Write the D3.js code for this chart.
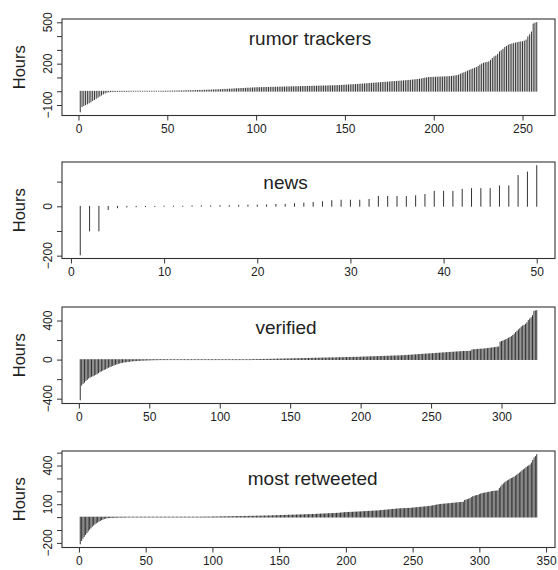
<!DOCTYPE html>
<html>
<head>
<meta charset="utf-8">
<script src="https://cdn.jsdelivr.net/npm/d3@7"></script>
<style>
  body { margin: 0; background: #fff; }
  svg text { font-family: "Liberation Sans", Arial, Helvetica, sans-serif; fill: #222; }
</style>
</head>
<body>
<div id="chart"></div>
<script>
// sorted hour differences, one value per account
let rumorTrackers = [
  -150,-112,-104,-98,-92,-85,-77,-68,-60,-52,-44,-36,-28,-20,-13,-8,-5,-3,-2,-2,
  -1,-1,-1,-1,-1,-1,-1,-1,0,0,0,0,0,0,0,0,0,0,0,0,
  0,0,0,0,0,0,1,1,1,1,1,2,2,2,2,3,3,3,3,4,
  4,4,5,5,5,6,6,7,7,7,8,8,9,9,10,10,11,11,12,12,
  13,14,14,15,16,16,17,18,19,19,20,21,21,22,23,23,24,25,25,26,
  26,27,27,27,28,28,28,29,29,29,30,30,30,31,31,31,32,32,32,33,
  33,33,34,34,34,35,35,35,36,36,36,37,37,37,38,38,38,39,39,39,
  40,40,40,41,41,42,42,43,44,45,45,46,47,48,48,49,50,51,52,53,
  54,55,56,57,58,59,60,61,62,63,64,65,66,67,68,69,70,71,72,73,
  74,75,76,77,78,79,80,82,83,85,86,88,90,93,96,98,100,101,101,102,
  102,103,103,104,104,105,105,106,107,108,110,112,114,118,124,130,135,140,146,152,
  157,162,167,172,180,190,198,203,207,210,214,225,238,250,256,268,285,295,305,318,
  325,335,340,343,346,350,353,356,358,360,364,372,395,410,430,488,495,498
];

let news = [
  -197,-100,-100,-13,-6,-3,-2,-1,-1,1,1,1,2,2,2,3,3,4,5,5,
  6,8,8,11,13,16,19,23,25,25,25,28,40,40,40,40,43,48,61,61,
  61,69,72,72,72,83,83,125,139,165
];

let verified = [
  -413,-262,-245,-232,-215,-203,-190,-180,-172,-168,-160,-152,-145,-135,-125,-118,-110,-103,-96,-88,
  -80,-74,-68,-62,-56,-50,-45,-40,-36,-32,-29,-26,-24,-22,-20,-18,-16,-14,-13,-12,
  -11,-10,-9,-8,-7,-7,-6,-5,-5,-4,-4,-3,-3,-2,-2,-2,-1,-1,-1,-1,
  -1,-1,0,0,0,0,0,0,0,0,0,0,0,0,0,0,0,0,0,0,
  0,0,0,0,0,0,0,0,0,0,0,0,0,0,0,0,0,0,0,0,
  0,0,0,0,0,0,0,0,0,0,0,0,0,0,0,0,0,0,0,0,
  0,0,1,1,1,1,2,2,2,2,3,3,3,3,4,4,4,5,5,5,
  6,6,6,7,7,7,8,8,8,9,9,9,10,10,10,11,11,11,12,12,
  12,13,13,13,14,14,14,15,15,15,16,16,16,17,17,17,18,18,18,19,
  19,19,20,20,20,21,21,21,22,22,22,23,23,23,24,24,24,25,25,26,
  26,27,27,28,28,29,29,30,30,31,31,32,32,33,33,34,34,35,35,36,
  36,37,37,38,38,39,39,40,40,41,42,43,44,45,46,47,48,49,50,51,
  52,53,54,55,56,57,58,59,60,61,62,63,64,65,66,67,68,69,70,71,
  72,73,74,75,76,77,78,79,80,81,82,83,84,84,85,85,86,86,100,102,
  103,104,105,106,107,108,109,110,112,114,116,118,120,122,124,126,128,130,180,186,
  192,198,205,212,220,228,236,248,262,278,292,305,318,335,345,352,362,378,400,415,
  430,450,495,500,502
];

let mostRetweeted = [
  -208,-182,-165,-150,-135,-122,-108,-95,-84,-72,-62,-54,-46,-39,-33,-27,-21,-16,-12,-8,
  -6,-5,-4,-3,-3,-2,-2,-2,-1,-1,-1,-1,-1,-1,-1,0,0,0,0,0,
  0,0,0,0,0,0,0,0,0,0,0,0,0,0,0,0,0,0,0,0,
  0,0,0,0,0,0,0,0,0,0,0,0,0,0,0,0,0,0,0,0,
  0,0,0,0,0,0,0,0,0,0,0,0,1,1,1,1,1,1,1,2,
  2,2,2,2,2,3,3,3,3,3,3,4,4,4,4,4,5,5,5,5,
  5,5,6,6,6,6,6,7,7,7,7,7,8,8,8,8,8,9,9,9,
  9,10,10,10,11,11,11,12,12,12,13,13,13,14,14,14,15,15,15,16,
  16,16,17,17,17,18,18,18,19,19,19,20,20,20,21,21,22,22,23,23,
  24,24,25,25,26,26,27,27,28,28,29,29,30,30,31,32,33,34,35,36,
  36,37,37,38,38,39,39,40,40,41,41,42,43,43,44,45,45,46,46,47,
  47,48,48,49,50,51,52,53,54,55,56,57,58,59,60,61,62,63,64,65,
  65,66,66,67,67,68,68,69,70,71,72,73,74,75,76,77,78,79,80,81,
  82,83,84,86,88,90,92,94,96,98,99,100,101,102,103,104,105,106,107,108,
  109,110,111,112,113,114,115,116,130,133,136,140,145,152,158,162,165,168,170,175,
  180,183,185,187,189,191,193,195,198,200,201,202,203,205,222,235,248,258,267,275,
  282,288,295,300,305,310,318,326,334,342,350,360,368,375,385,392,398,405,420,440,
  459,470,485
];

let titles = ["rumor trackers", "news", "verified", "most retweeted"];

let xTicks = [
  [0, 50, 100, 150, 200, 250],
  [0, 10, 20, 30, 40, 50],
  [0, 50, 100, 150, 200, 250, 300],
  [0, 50, 100, 150, 200, 250, 300, 350]
];
let yTicks = [
  [-100, 0, 100, 200, 300, 400, 500],
  [-200, -100, 0, 100],
  [-400, -200, 0, 200, 400],
  [-200, -100, 0, 100, 200, 300, 400, 500]
];
let yLabels = [
  [-100, 200, 500],
  [-200, 0],
  [-400, 0, 400],
  [-200, 100, 400]
];

let series = [rumorTrackers, news, verified, mostRetweeted];

let width = 558, height = 570;
let left = 62, right = 555;
let tops = [19, 162, 307, 451];
let panelH = 96.5;
let titleX = [310, 285.5, 286, 312.7];
let titleDy = [26, 27, 27, 34];

let svg = d3.select("#chart").append("svg")
    .attr("width", width)
    .attr("height", height);

let fmt = (v) => v < 0 ? "\u2212" + Math.abs(v) : String(v);

series.forEach((data, i) => {
    let n = data.length;
    let top = tops[i], bottom = top + panelH;

    // R style 4% padding on both axes
    let xPad = 0.04 * (n - 1);
    let x = d3.scaleLinear()
        .domain([1 - xPad, n + xPad])
        .range([left, right]);

    let lo = d3.min(data), hi = d3.max(data);
    let yPad = 0.04 * (hi - lo);
    let y = d3.scaleLinear()
        .domain([lo - yPad, hi + yPad])
        .range([bottom, top]);

    let g = svg.append("g").attr("class", "panel");

    // type = "h" spikes, round ends so zero values still leave a dot
    g.append("g")
        .attr("class", "spikes")
        .selectAll("line")
        .data(data)
        .enter().append("line")
        .attr("x1", (d, j) => x(j + 1))
        .attr("x2", (d, j) => x(j + 1))
        .attr("y1", y(0))
        .attr("y2", (d) => y(d))
        .attr("stroke", "#1c1c1c")
        .attr("stroke-width", 0.9)
        .attr("stroke-linecap", "round");

    // frame
    g.append("rect")
        .attr("x", left)
        .attr("y", top)
        .attr("width", right - left)
        .attr("height", panelH)
        .attr("fill", "none")
        .attr("stroke", "#333")
        .attr("stroke-width", 1.1);

    // x axis
    let xAxis = d3.axisBottom(x)
        .tickValues(xTicks[i])
        .tickSize(5)
        .tickPadding(4)
        .tickFormat(fmt);
    let gx = g.append("g")
        .attr("transform", "translate(0," + bottom + ")")
        .call(xAxis);
    gx.select(".domain").remove();
    gx.selectAll(".tick line").attr("stroke", "#333");
    gx.selectAll(".tick text")
        .attr("dy", null)
        .attr("y", 17.5)
        .style("font-size", "12px")
        .attr("fill", "#222");

    // y axis (ticks only, labels drawn rotated)
    let yAxis = d3.axisLeft(y)
        .tickValues(yTicks[i])
        .tickSize(5)
        .tickFormat("");
    let gy = g.append("g")
        .attr("transform", "translate(" + left + ",0)")
        .call(yAxis);
    gy.select(".domain").remove();
    gy.selectAll(".tick line").attr("stroke", "#333");

    g.append("g")
        .selectAll("text")
        .data(yLabels[i])
        .enter().append("text")
        .attr("transform", (d) => "translate(52," + y(d) + ") rotate(-90)")
        .attr("text-anchor", "middle")
        .style("font-size", "12px")
        .text(fmt);

    // axis title
    g.append("text")
        .attr("transform", "translate(25," + (top + panelH / 2) + ") rotate(-90)")
        .attr("text-anchor", "middle")
        .style("font-size", "16.5px")
        .text("Hours");

    // panel title
    g.append("text")
        .attr("x", titleX[i])
        .attr("y", top + titleDy[i])
        .attr("text-anchor", "middle")
        .style("font-size", "19px")
        .text(titles[i]);
});
</script>
</body>
</html>
